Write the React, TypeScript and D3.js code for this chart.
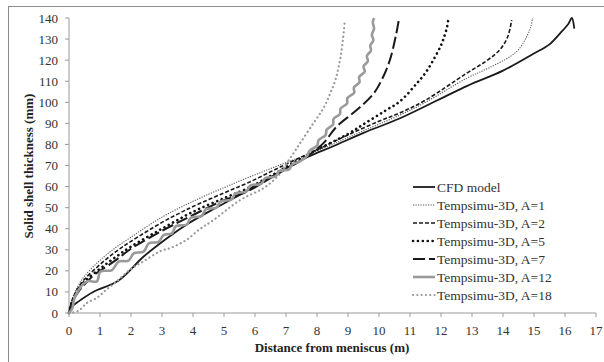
import React from "react";
import * as d3 from "d3";

const svgWidth = 604;
const svgHeight = 362;
const margin = { top: 18, left: 69, right: 8, bottom: 49 };
const innerWidth = 596 - margin.left;
const innerHeight = 313 - margin.top;

const xTicks = d3.range(0, 18);
const yTicks = d3.range(0, 150, 10);

// [distance (m), thickness (mm)]
const cfd: [number, number][] = [
  [0, 0], [0.1, 3], [0.3, 5.4], [0.78, 10], [1.59, 15.3], [2.4, 26.7], [3.15, 35.4],
  [3.85, 42.5], [4.5, 48], [5.5, 56], [6.5, 64.5], [7.72, 74.2], [8.5, 79], [9.5, 85.5],
  [10.68, 92.4], [12.83, 107.7], [14, 115], [14.98, 123], [15.5, 127.5], [15.84, 132.7],
  [16.1, 137], [16.22, 140], [16.3, 135],
];
const a1: [number, number][] = [
  [0, 0], [0.1, 6.5], [0.3, 13], [0.5, 17.5], [1, 25], [1.5, 31], [2, 36], [3, 45.5],
  [4, 53], [5, 59.5], [5.73, 64], [6.5, 68.5], [7.2, 72.5], [7.67, 75], [8.5, 80],
  [9.5, 86.5], [10.68, 94], [11.5, 100], [12.83, 111.4], [13.5, 116], [14.23, 121.7],
  [14.5, 125], [14.76, 131], [14.9, 136], [14.95, 140],
];
const a2: [number, number][] = [
  [0, 0], [0.1, 6], [0.3, 12], [0.5, 16], [1, 23], [1.5, 29], [2, 34], [3, 43],
  [3.58, 47.5], [4, 50.5], [5, 57], [5.73, 61.5], [6.5, 67], [7.2, 72], [8, 77.5],
  [9, 84.5], [10, 91], [10.68, 95], [11.5, 101], [12.83, 113.8], [13.5, 120],
  [13.9, 125], [14.15, 131], [14.28, 139],
];
const a5: [number, number][] = [
  [0, 0], [0.1, 5.5], [0.3, 11], [0.5, 15], [1, 21], [1.5, 26.5], [2, 31.5], [3, 40],
  [4, 48], [5, 54.5], [5.73, 59], [6.5, 65], [7.2, 71], [8, 77.5], [9, 85], [9.6, 90.5],
  [10.2, 96], [10.68, 100.5], [11.22, 109], [11.5, 114], [11.75, 120], [12, 127],
  [12.1, 131], [12.2, 136], [12.24, 140],
];
const a7: [number, number][] = [
  [0, 0], [0.1, 5], [0.3, 10], [0.5, 13.5], [0.8, 18], [1, 20], [1.5, 25], [2, 30.5],
  [3, 39], [4, 46.5], [5, 53.5], [5.73, 57.5], [6.5, 64], [7.2, 70], [7.45, 72],
  [8.2, 80.5], [8.63, 88.4], [9.28, 96.3], [9.82, 104], [10.1, 111], [10.35, 120],
  [10.55, 132], [10.65, 140],
];
const a12: [number, number][] = [
  [0, 0], [0.1, 2], [0.2, 8], [0.58, 15], [0.9, 15], [1.01, 19.6], [1.39, 20.4],
  [1.6, 24.4], [1.92, 24.8], [2.09, 28.3], [2.41, 29.1], [2.57, 33], [2.89, 33.8],
  [3.05, 37], [3.32, 37.8], [3.45, 41.2], [3.8, 42], [3.93, 45.2], [4.28, 46],
  [4.41, 49.2], [4.76, 50], [4.89, 53], [5.24, 53.8], [5.37, 56.8], [5.72, 57.6],
  [5.85, 60.5], [6.2, 61.3], [6.33, 64], [6.66, 64.8], [6.78, 67.4], [7.1, 68.2],
  [7.2, 70.5], [7.45, 72], [7.68, 74.5], [7.76, 77], [8.01, 79.5], [8.05, 82],
  [8.28, 84.5], [8.31, 87], [8.52, 89.5], [8.53, 92], [8.74, 94.5], [8.76, 97],
  [8.97, 99.5], [8.98, 102], [9.2, 104.5], [9.19, 107], [9.37, 109.5], [9.36, 112],
  [9.54, 114.5], [9.5, 117], [9.64, 119.5], [9.61, 122], [9.74, 124.5], [9.72, 127],
  [9.82, 129.5], [9.77, 132], [9.84, 135], [9.8, 138], [9.84, 140],
];
const a18: [number, number][] = [
  [0, 0], [0.3, 1], [0.57, 4.7], [0.89, 7.1], [1.2, 11], [1.54, 15], [1.97, 20.6],
  [2.4, 24.5], [2.94, 29.3], [3.3, 31], [3.8, 34.8], [4.2, 39.6], [4.65, 44], [5.52, 53.6],
  [6.3, 59.5], [6.8, 66], [7.02, 71], [7.24, 75.8], [7.45, 80.5], [7.88, 90], [8.2, 97],
  [8.42, 104], [8.6, 111], [8.74, 120], [8.83, 129], [8.9, 139],
];

const seriesNames = [
  "CFD model",
  "Tempsimu-3D, A=1",
  "Tempsimu-3D, A=2",
  "Tempsimu-3D, A=5",
  "Tempsimu-3D, A=7",
  "Tempsimu-3D, A=12",
  "Tempsimu-3D, A=18",
];
const seriesData = [cfd, a1, a2, a5, a7, a12, a18];

const styles = [
  { stroke: "#1a1a1a", width: 1.8, dash: "none", cap: "butt" },
  { stroke: "#555", width: 1.1, dash: "1.2,1.3", cap: "butt" },
  { stroke: "#1a1a1a", width: 1.6, dash: "4,2", cap: "butt" },
  { stroke: "#111", width: 2.6, dash: "0.1,4.8", cap: "round" },
  { stroke: "#1a1a1a", width: 2, dash: "12,4", cap: "butt" },
  { stroke: "#9a9a9a", width: 2.6, dash: "none", cap: "butt" },
  { stroke: "#999", width: 2.2, dash: "0.1,4.2", cap: "round" },
];

const App = () => {
  const xScale = d3.scaleLinear().domain([0, 17]).range([0, innerWidth]);
  const yScale = d3.scaleLinear().domain([0, 140]).range([innerHeight, 0]);
  const line = d3
    .line<[number, number]>()
    .x((d) => xScale(d[0]))
    .y((d) => yScale(d[1]))
    .curve(d3.curveCatmullRom.alpha(0.5));

  const font = "'Liberation Serif', 'Times New Roman', serif";

  return (
    <svg
      width={svgWidth}
      height={svgHeight}
      style={{ position: "absolute", left: 0, top: 0, background: "#fff" }}
      fontFamily={font}
    >
      <rect x={8.5} y={6.5} width={600} height={360} fill="none" stroke="#8c8c8c" />
      <g transform={`translate(${margin.left},${margin.top})`}>
        <line x1={0} x2={0} y1={0} y2={innerHeight} stroke="#999" />
        <line x1={0} x2={innerWidth} y1={innerHeight} y2={innerHeight} stroke="#999" />
        {yTicks.map((t) => (
          <g key={t} transform={`translate(0,${yScale(t)})`}>
            <line x1={-4} x2={0} stroke="#999" />
            <text x={-11} dy="0.35em" textAnchor="end" fontSize={13} fill="#333">
              {t}
            </text>
          </g>
        ))}
        {xTicks.map((t) => (
          <g key={t} transform={`translate(${xScale(t)},${innerHeight})`}>
            <line y1={0} y2={4} stroke="#999" />
            <text y={22} textAnchor="middle" fontSize={13} fill="#333">
              {t}
            </text>
          </g>
        ))}
        {seriesData.map((d, i) => (
          <path
            key={i}
            d={line(d) || ""}
            fill="none"
            stroke={styles[i].stroke}
            strokeWidth={styles[i].width}
            strokeDasharray={styles[i].dash}
            strokeLinecap={styles[i].cap as any}
            strokeLinejoin="round"
          />
        ))}
      </g>
      <text
        x={332}
        y={352}
        textAnchor="middle"
        fontSize={13}
        fontWeight="bold"
        fill="#222"
      >
        Distance from meniscus (m)
      </text>
      <text
        transform="translate(33,166) rotate(-90)"
        textAnchor="middle"
        fontSize={13}
        fontWeight="bold"
        fill="#222"
      >
        Solid shell thickness (mm)
      </text>
      {seriesNames.map((name, i) => {
        const y = 187 + i * 18;
        return (
          <g key={name}>
            <line
              x1={413}
              x2={435}
              y1={y}
              y2={y}
              stroke={styles[i].stroke}
              strokeWidth={styles[i].width}
              strokeDasharray={styles[i].dash}
              strokeLinecap={styles[i].cap as any}
            />
            <text x={437} y={y} dy="0.35em" fontSize={13.5} fill="#333">
              {name}
            </text>
          </g>
        );
      })}
    </svg>
  );
};

export default App;
